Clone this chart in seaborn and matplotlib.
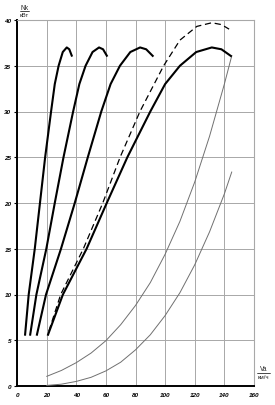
import matplotlib
matplotlib.use("Agg")
import matplotlib.pyplot as plt
import seaborn as sns
import pandas as pd

# ---- data ----
gear_N = [5.5, 10, 15, 20, 25, 30, 33, 35, 36.5, 37, 36.8, 36.0]
gear1_v = [5.4, 7.9, 12.0, 15.5, 19.0, 23.0, 25.5, 28.1, 30.9, 33.6, 35.3, 37.2]
gear2_v = [8.8, 13.1, 19.8, 25.5, 31.4, 37.9, 42.1, 46.3, 51.0, 55.4, 58.1, 61.0]
gear3_v = [13.3, 19.6, 29.7, 39.0, 47.8, 56.9, 63.2, 69.5, 76.5, 83.1, 87.2, 92.1]
gear4_v = [20.7, 31.0, 47.0, 60.6, 74.5, 90.0, 100.0, 110.0, 121.0, 131.5, 138.0, 145.0]

dashed_v = [21.5, 29.5, 44.8, 57.9, 69.6, 83.0, 99.0, 110.0, 121.4, 131.5, 138.0, 143.2]
dashed_N = [6.0, 10.0, 15.0, 20.0, 25.0, 30.0, 35.0, 37.8, 39.3, 39.7, 39.5, 39.0]

res_v = [20, 30, 40, 50, 60, 70, 80, 90, 100, 110, 120, 130, 140, 145]
res_upper = [1.05, 1.7, 2.55, 3.6, 4.95, 6.7, 8.8, 11.3, 14.4, 18.0, 22.3, 27.3, 33.0, 36.1]
res_lower = [0.06, 0.2, 0.5, 0.95, 1.65, 2.6, 3.95, 5.6, 7.7, 10.2, 13.25, 16.85, 21.0, 23.4]

x_ticks = [0, 20, 40, 60, 80, 100, 120, 140, 160]
y_ticks = [0, 5, 10, 15, 20, 25, 30, 35, 40]

# ---- figure ----
sns.set_style("white")
plt.rcParams['font.family'] = ['Liberation Sans', 'DejaVu Sans']

fig = plt.figure(figsize=(2.75, 4.06), dpi=100)
ax = fig.add_axes([17/275, 19/406, 237/275, 366/406])

grid_c = '#a8a8a8'
for gv in [gear1_v, gear2_v, gear3_v, gear4_v]:
    df = pd.DataFrame({'v': gv, 'N': gear_N})
    sns.lineplot(data=df, x='v', y='N', sort=False, ax=ax, color='black',
                 lw=1.5, solid_capstyle='butt', zorder=4)

dfd = pd.DataFrame({'v': dashed_v, 'N': dashed_N})
sns.lineplot(data=dfd, x='v', y='N', sort=False, ax=ax, color='black',
             lw=0.9, zorder=4)
ax.lines[-1].set_dashes([5, 3])

dfr = pd.DataFrame({'v': res_v, 'up': res_upper, 'lo': res_lower})
sns.lineplot(data=dfr, x='v', y='up', sort=False, ax=ax, color='#707070', lw=0.7, zorder=3)
sns.lineplot(data=dfr, x='v', y='lo', sort=False, ax=ax, color='#707070', lw=0.7, zorder=3)

ax.set_xlim(0, 160)
ax.set_ylim(0, 40)
ax.set_xticks(x_ticks)
ax.set_yticks(y_ticks)
ax.set_xticklabels([str(t) for t in x_ticks])
ax.set_yticklabels([str(t) for t in y_ticks])
ax.grid(True, color=grid_c, lw=0.7)
ax.set_axisbelow(True)
ax.set_xlabel('')
ax.set_ylabel('')

for lab in ax.get_xticklabels() + ax.get_yticklabels():
    lab.set_fontsize(4.6)
    lab.set_fontstyle('italic')
    lab.set_fontweight('bold')

ax.tick_params(axis='both', which='both', direction='out', length=2, width=0.8,
               colors='black', pad=2)
ax.tick_params(axis='y', left=True, pad=2)

for s in ['left', 'bottom']:
    ax.spines[s].set_color('black')
    ax.spines[s].set_linewidth(1.4)
for s in ['top', 'right']:
    ax.spines[s].set_color(grid_c)
    ax.spines[s].set_linewidth(0.8)

# axis unit labels as fractions
fig.text(24.5/275, 1 - 8.5/406, 'Nk', fontsize=4.8, ha='center', va='center')
fig.text(24.5/275, 1 - 15.5/406, 'кВт', fontsize=4.3, ha='center', va='center')
fig.add_artist(plt.Line2D([20/275, 29/275], [1 - 12.3/406, 1 - 12.3/406],
                          color='black', lw=0.5))
fig.text(263.5/275, 1 - 369.5/406, 'Va', fontsize=4.8, ha='center', va='center')
fig.text(263.5/275, 1 - 378/406, 'км/ч', fontsize=4.3, ha='center', va='center')
fig.add_artist(plt.Line2D([257/275, 270/275], [1 - 374/406, 1 - 374/406],
                          color='black', lw=0.5))

fig.savefig('out.png', dpi=100)
